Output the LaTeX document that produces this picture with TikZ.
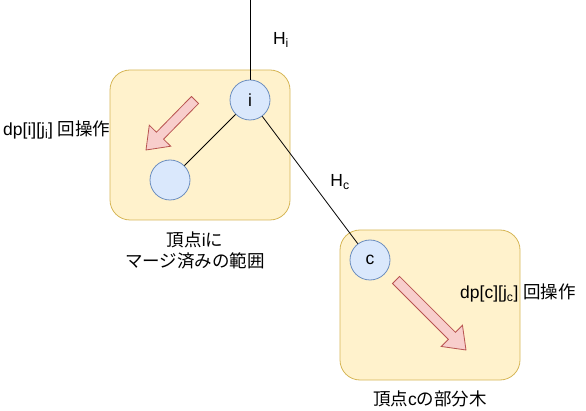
\documentclass[tikz,border=0pt]{standalone}
\usepackage{fontspec}
\setmainfont{Liberation Sans}
\newfontfamily\cjk{Noto Sans CJK JP}
\usetikzlibrary{calc}
\definecolor{yfill}{HTML}{FFF2CC}
\definecolor{ydraw}{HTML}{D6B656}
\definecolor{bfill}{HTML}{DAE8FC}
\definecolor{bdraw}{HTML}{6C8EBF}
\definecolor{rfill}{HTML}{F8CECC}
\definecolor{rdraw}{HTML}{B85450}
\tikzset{
  region/.style={draw=ydraw, fill=yfill, rounded corners=20pt, line width=0.8pt},
  vertex/.style={circle, draw=bdraw, fill=bfill, minimum size=40pt, inner sep=0pt, line width=0.8pt, font=\fontsize{17.5}{20}\selectfont},
  edge/.style={draw=black, line width=0.8pt},
  lbl/.style={inner sep=0pt, font=\fontsize{17.5}{21}\selectfont, align=center},
  blockarrow/.style={draw=rdraw, fill=rfill, line width=0.8pt, line join=miter}
}
\newcommand\flexarrow[2]{%
  \coordinate (hb) at ($(#2)!20pt!(#1)$);
  \draw[blockarrow] ($(#1)!5pt!-90:(#2)$) -- ($(hb)!5pt!-90:(#2)$) -- ($(hb)!15pt!-90:(#2)$) -- (#2)
    -- ($(hb)!15pt!90:(#2)$) -- ($(hb)!5pt!90:(#2)$) -- ($(#1)!5pt!90:(#2)$) -- cycle;}
\begin{document}
\begin{tikzpicture}[x=1pt,y=-1pt]
\useasboundingbox (0,0) rectangle (586,411);
% regions
\path[region] (110,70) rectangle (290,220);
\path[region] (340,230) rectangle (520,380);
% vertices
\node[vertex] (i) at (250,100) {i};
\node[vertex] (m) at (170,180) {};
\node[vertex] (c) at (370,260) {c};
\coordinate (top) at (250,0);
% edges
\draw[edge] (top) -- (i);
\draw[edge] (i) -- (m);
\draw[edge] (i) -- (c);
% block arrows
\coordinate (a1s) at (195,100);
\coordinate (a1e) at (146,150);
\flexarrow{a1s}{a1e}
\coordinate (a2s) at (396,280);
\coordinate (a2e) at (466,350);
\flexarrow{a2s}{a2e}
% labels
\node[lbl] (hi) at (281,40) {H\textsubscript{i}};
\node[lbl] (hc) at (340,182) {H\textsubscript{c}};
\node[lbl, anchor=west] (dpi) at (3,130) {dp[i][j\textsubscript{i}] {\cjk 回操作}};
\node[lbl, anchor=west] (dpc) at (460,293) {dp[c][j\textsubscript{c}] {\cjk 回操作}};
\node[lbl] (ri) at (195,250) {{\cjk 頂点}i{\cjk に}\\{\cjk マージ済みの範囲}};
\node[lbl] (rc) at (430,399) {{\cjk 頂点}c{\cjk の部分木}};
\end{tikzpicture}
\end{document}
